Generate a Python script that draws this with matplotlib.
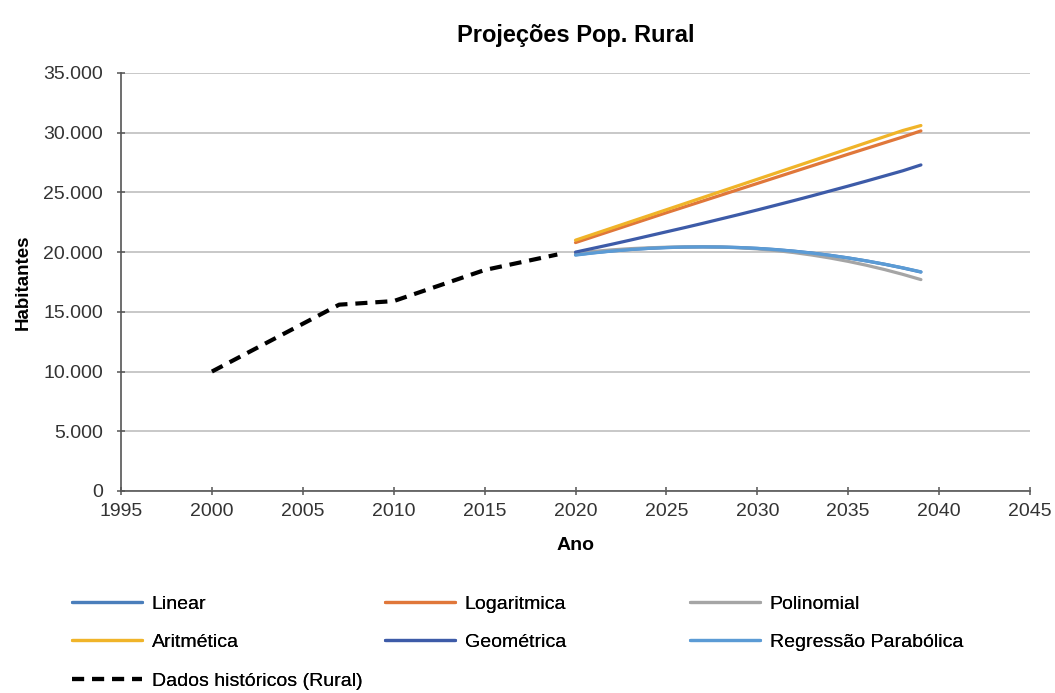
import matplotlib
matplotlib.use("Agg")
import matplotlib.pyplot as plt
from matplotlib.ticker import FuncFormatter, MultipleLocator

plt.rcParams['font.family'] = ['Liberation Sans', 'DejaVu Sans']

# Historical rural population
hist_years = [2000, 2007, 2010, 2015, 2019]
hist_pop = [10000, 15600, 15900, 18500, 19800]

# Projection horizon
proj_years = list(range(2020, 2040))

linear = [19780, 19950, 20100, 20220, 20310, 20380, 20420, 20440, 20425, 20385,
          20315, 20215, 20085, 19925, 19735, 19515, 19265, 18985, 18675, 18330]
logaritmica = [20800, 21300, 21800, 22300, 22800, 23300, 23790, 24280, 24770, 25260,
               25750, 26240, 26730, 27220, 27710, 28200, 28680, 29160, 29640, 30150]
polinomial = [19900, 20060, 20190, 20290, 20360, 20410, 20435, 20440, 20420, 20364,
              20270, 20136, 19965, 19756, 19508, 19224, 18901, 18540, 18140, 17700]
aritmetica = [21000, 21510, 22020, 22530, 23040, 23550, 24060, 24570, 25080, 25590,
              26100, 26610, 27120, 27630, 28140, 28650, 29160, 29670, 30180, 30600]
geometrica = [20000, 20330, 20660, 21000, 21350, 21700, 22050, 22410, 22780, 23150,
              23530, 23920, 24310, 24710, 25120, 25530, 25950, 26380, 26810, 27300]
parabolica = [19750, 19932, 20088, 20214, 20313, 20384, 20426, 20440, 20425, 20382,
              20310, 20208, 20077, 19918, 19729, 19512, 19265, 18990, 18685, 18350]

series = [
    ("Linear", linear, "#4a7ebb"),
    ("Logaritmica", logaritmica, "#e0773a"),
    ("Polinomial", polinomial, "#a5a5a5"),
    ("Aritmética", aritmetica, "#f0b429"),
    ("Geométrica", geometrica, "#3d5ba8"),
    ("Regressão Parabólica", parabolica, "#5b9bd5"),
]

FS = 14

fig = plt.figure(figsize=(10.55, 6.93), dpi=100)
ax = fig.add_axes([0.1147, 0.2915, 0.8616, 0.6032])

lines = {}
for label, vals, color in series:
    lines[label], = ax.plot(proj_years, vals, color=color, lw=2.3, label=label,
                            solid_capstyle='round')

lines["Dados históricos (Rural)"], = ax.plot(
    hist_years, hist_pop, color='black', lw=3, linestyle=(0, (2.9, 1.9)),
    label="Dados históricos (Rural)")

ax.set_xlim(1995, 2045)
ax.set_ylim(0, 35000)
ax.xaxis.set_major_locator(MultipleLocator(5))
ax.yaxis.set_major_locator(MultipleLocator(5000))
ax.yaxis.set_major_formatter(FuncFormatter(lambda v, p: f"{int(v):,}".replace(",", ".")))

ax.grid(axis='y', color='#c4c4c4', lw=1.3)
ax.set_axisbelow(True)
for s in ['top', 'right']:
    ax.spines[s].set_visible(False)
for s in ['left', 'bottom']:
    ax.spines[s].set_color('#555555')
    ax.spines[s].set_linewidth(1.2)
ax.tick_params(axis='both', colors='#555555', labelcolor='#333333', labelsize=FS,
               length=6, width=1.1, direction='inout')
ax.tick_params(axis='x', pad=6)
ax.tick_params(axis='y', pad=10)

ax.set_xlabel("Ano", fontsize=FS, fontweight='bold', labelpad=12)
ax.set_ylabel("Habitantes", fontsize=FS - 0.5, fontweight='bold', labelpad=8)
ax.set_title("Projeções Pop. Rural", fontsize=17, fontweight='bold', pad=22)

# Legend laid out as three columns, filled row by row
columns = [
    (72, ["Linear", "Aritmética", "Dados históricos (Rural)"]),
    (385, ["Logaritmica", "Geométrica"]),
    (690, ["Polinomial", "Regressão Parabólica"]),
]
W, H = 1055, 693
for xpx, names in columns:
    leg = fig.legend([lines[n] for n in names], names, loc='upper left',
                     bbox_to_anchor=(xpx / W, 1 - 595 / H), frameon=False,
                     fontsize=FS, handlelength=3.6, handletextpad=0.5,
                     labelspacing=1.08, borderpad=0, borderaxespad=0)
    fig.add_artist(leg)

fig.savefig("out.png", dpi=100)
